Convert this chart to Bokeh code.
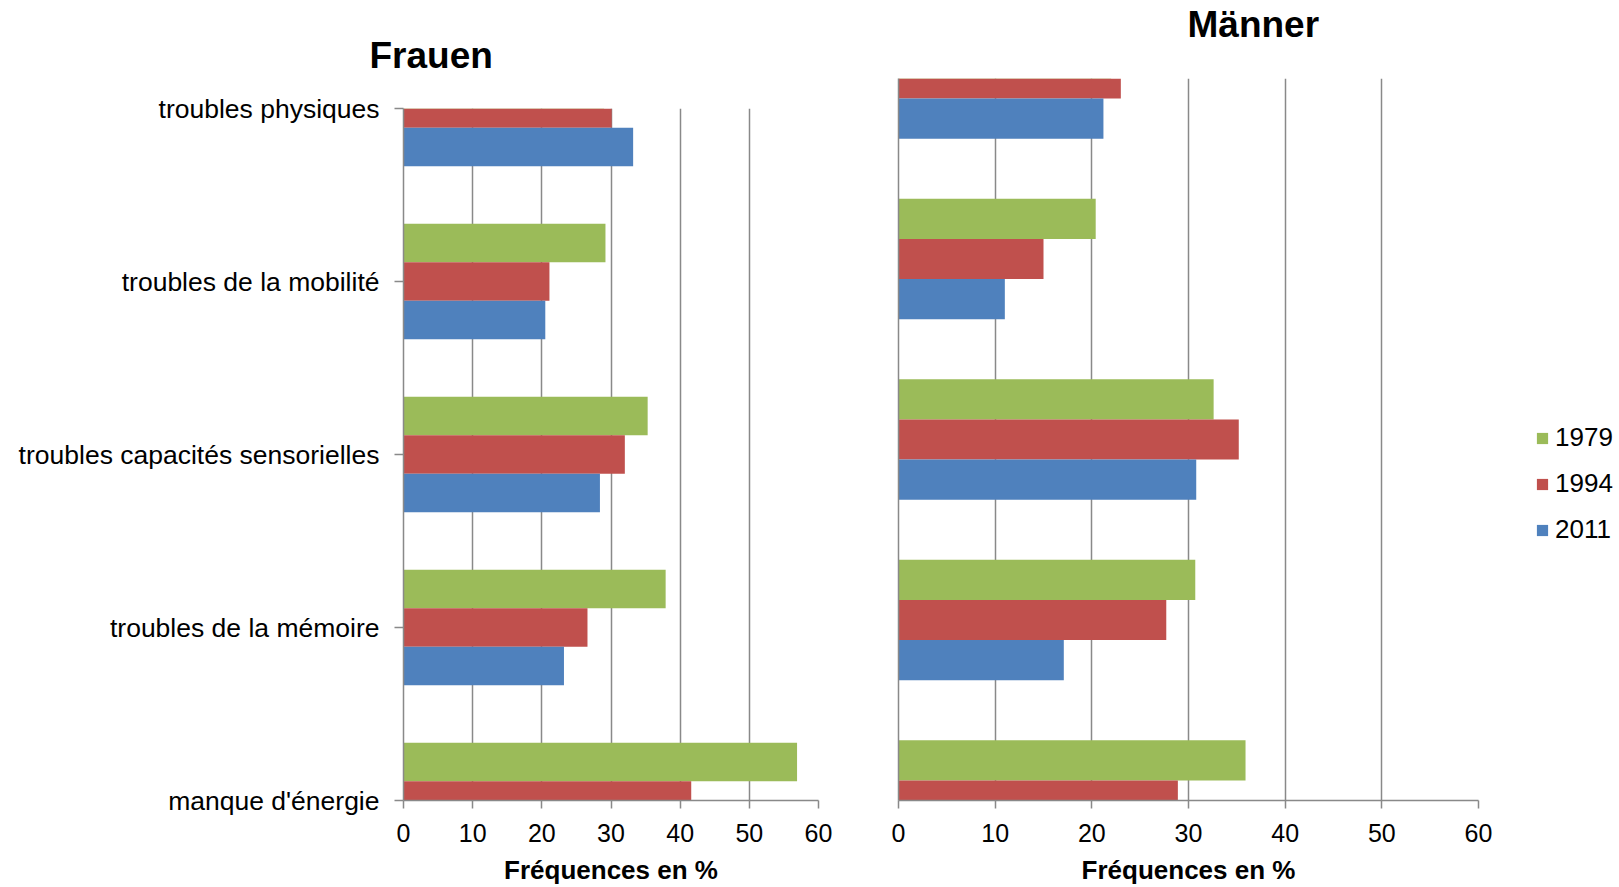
from bokeh.plotting import figure
from bokeh.models import ColumnDataSource, Range1d, FixedTicker, Legend, LegendItem, Title
from bokeh.layouts import row
from bokeh.transform import dodge
from bokeh.embed import file_html
from bokeh.resources import INLINE

# ---------------- data ----------------
categories = ["troubles physiques", "troubles de la mobilité",
              "troubles capacités sensorielles", "troubles de la mémoire",
              "manque d'énergie"]
years = ["1979", "1994", "2011"]

frauen_1979 = [29.0, 29.2, 35.3, 37.9, 56.9]
frauen_1994 = [30.1, 21.1, 32.0, 26.6, 41.6]
frauen_2011 = [33.2, 20.5, 28.4, 23.2, 40.0]

maenner_1979 = [22.0, 20.4, 32.6, 30.7, 35.9]
maenner_1994 = [23.0, 15.0, 35.2, 27.7, 28.9]
maenner_2011 = [21.2, 11.0, 30.8, 17.1, 24.0]

x_ticks = [0, 10, 20, 30, 40, 50, 60]
panel_titles = ["Frauen", "Männer"]
axis_title = "Fréquences en %"

colors = {"1979": "#9BBB59", "1994": "#C0504D", "2011": "#4F81BD"}
FONT = "Liberation Sans"
GRAY = "#898989"
BAR_H = 1.0 / 4.5
offsets = {"1979": BAR_H, "1994": 0.0, "2011": -BAR_H}

positions = [len(categories) - 1 - i for i in range(len(categories))]


def make_panel(vals, fw, fh, bl, br, bt, bb, show_cats):
    src = ColumnDataSource(dict(pos=positions, cat=categories,
                                v1979=vals[0], v1994=vals[1], v2011=vals[2]))
    p = figure(frame_width=fw, frame_height=fh,
               min_border_left=bl, min_border_right=br,
               min_border_top=bt, min_border_bottom=bb,
               x_range=Range1d(0, 60), y_range=Range1d(0, len(categories) - 1),
               output_backend="svg", toolbar_location=None)
    p.frame_align = False
    p.outline_line_color = None
    p.background_fill_color = "white"
    p.border_fill_color = "white"

    rends = {}
    for y in years:
        rends[y] = p.hbar(y=dodge("pos", offsets[y]), left=0, right="v" + y,
                          height=BAR_H, source=src, fill_color=colors[y],
                          line_color=None)

    # x axis
    p.xaxis.ticker = FixedTicker(ticks=x_ticks)
    p.xaxis.axis_line_color = GRAY
    p.xaxis.axis_line_width = 1.5
    p.xaxis.major_tick_line_color = GRAY
    p.xaxis.major_tick_line_width = 1.5
    p.xaxis.major_tick_out = 8
    p.xaxis.major_tick_in = 0
    p.xaxis.minor_tick_line_color = None
    p.xaxis.major_label_text_font = FONT
    p.xaxis.major_label_text_font_size = "25px"
    p.xaxis.major_label_text_color = "black"
    p.xaxis.major_label_standoff = 15
    p.xaxis.axis_label = axis_title
    p.xaxis.axis_label_text_font = FONT
    p.xaxis.axis_label_text_font_size = "26px"
    p.xaxis.axis_label_text_font_style = "bold"
    p.xaxis.axis_label_text_color = "black"
    p.xaxis.axis_label_standoff = 10

    # y axis
    p.yaxis.axis_line_color = GRAY
    p.yaxis.axis_line_width = 1.5
    p.yaxis.minor_tick_line_color = None
    if show_cats:
        p.yaxis.ticker = FixedTicker(ticks=positions)
        p.yaxis.major_label_overrides = {pos: c for pos, c in zip(positions, categories)}
        p.yaxis.major_tick_line_color = GRAY
        p.yaxis.major_tick_line_width = 1.5
        p.yaxis.major_tick_out = 9
        p.yaxis.major_tick_in = 0
        p.yaxis.major_label_text_font = FONT
        p.yaxis.major_label_text_font_size = "26.5px"
        p.yaxis.major_label_text_color = "black"
        p.yaxis.major_label_standoff = 15
    else:
        p.yaxis.ticker = FixedTicker(ticks=[])
        p.yaxis.major_tick_line_color = None

    # grid
    p.xgrid.ticker = FixedTicker(ticks=x_ticks)
    p.xgrid.grid_line_color = GRAY
    p.xgrid.grid_line_width = 1.5
    p.ygrid.grid_line_color = None
    return p, rends


p1, _ = make_panel([frauen_1979, frauen_1994, frauen_2011],
                   415, 692, 403, 40, 108, 85, True)
p1.title.text = panel_titles[0]
p1.title.align = "left"
p1.title.offset = -34
p1.title.text_font = FONT
p1.title.text_font_size = "37px"
p1.title.text_font_style = "bold"
p1.title.text_color = "black"
p1.title.standoff = 65

p2, r2 = make_panel([maenner_1979, maenner_1994, maenner_2011],
                    580, 722, 40, 137, 78, 85, False)
p2.title.text = ""
# blank spacer between frame and title (closest to the frame)
p2.add_layout(Title(text=" ", text_font=FONT, text_font_size="12px",
                    standoff=17), "above")
p2.add_layout(Title(text=panel_titles[1], align="left", offset=289,
                    text_font=FONT, text_font_size="37px",
                    text_font_style="bold", text_color="black",
                    standoff=2), "above")

legend = Legend(items=[LegendItem(label=y, renderers=[r2[y]]) for y in years],
                location=(57, 255))
legend.glyph_width = 14
legend.glyph_height = 14
legend.label_height = 30
legend.spacing = 15
legend.label_standoff = 6
legend.padding = 0
legend.margin = 0
legend.border_line_color = None
legend.background_fill_alpha = 0
legend.label_text_font = FONT
legend.label_text_font_size = "26px"
legend.label_text_color = "black"
p2.add_layout(legend, "right")

layout = row(p1, p2)
open("out.html", "w").write(file_html(layout, INLINE))
